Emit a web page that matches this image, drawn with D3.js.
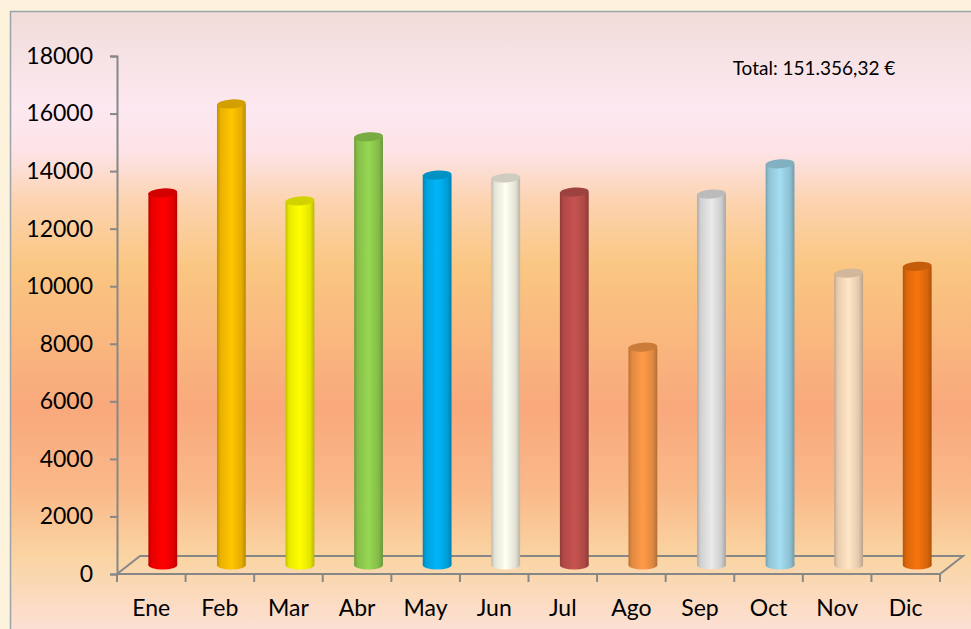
<!DOCTYPE html>
<html>
<head>
<meta charset="utf-8">
<script src="https://cdn.jsdelivr.net/npm/d3@7"></script>
<style>
  body { margin: 0; background: #fdf3dc; }
  text { font-family: Lato, "Open Sans", sans-serif; fill: #000; }
</style>
</head>
<body>
<svg id="chart" width="971" height="629"></svg>
<script>
// monthly sales
var months = ["Ene", "Feb", "Mar", "Abr", "May", "Jun", "Jul", "Ago", "Sep", "Oct", "Nov", "Dic"];
var sales = [12930, 16020, 12650, 14880, 13550, 13450, 12960, 7570, 12890, 13940, 10140, 10380];
var barColors = ["#ff0000", "#ffc000", "#ffff00", "#92d050", "#00b0f0", "#fbf9ea",
                 "#c0504d", "#f79646", "#e3e3e3", "#9dd6ea", "#ffdfbf", "#ef700c"];
var yTicks = [0, 2000, 4000, 6000, 8000, 10000, 12000, 14000, 16000, 18000];
var totalLabel = "Total: 151.356,32 €";

function main() {
    var svg = d3.select("#chart");
    var left = 117, right = 940, bottom = 574, top = 56;
    var depthX = 23, depthY = -18;   // floor depth offset

    var xScale = d3.scaleBand().domain(months).range([left, right]);
    var yScale = d3.scaleLinear().domain([0, 18000]).range([bottom, top]);

    var defs = svg.append("defs");

    // plot area background
    var bg = defs.append("linearGradient").attr("id", "bg")
        .attr("x1", 0).attr("y1", 0).attr("x2", 0).attr("y2", 1);
    [[0, "#f1dcd9"], [0.15, "#fde8f1"], [0.22, "#fde3e6"], [0.3, "#fcd3ae"],
     [0.4, "#fac681"], [0.62, "#f9a97c"], [0.75, "#fab989"], [0.85, "#fad4a2"],
     [1, "#fde3e3"]].forEach(function(s) {
        bg.append("stop").attr("offset", s[0]).attr("stop-color", s[1]);
    });

    svg.append("rect")
        .attr("x", 10.5).attr("y", 11.5)
        .attr("width", 975).attr("height", 640)
        .attr("fill", "url(#bg)")
        .attr("stroke", "#9da3ab").attr("stroke-width", 1.5);

    // cylinder shading per bar
    barColors.forEach(function(c, i) {
        var base = d3.color(c);
        var g = defs.append("linearGradient").attr("id", "cyl" + i)
            .attr("x1", 0).attr("y1", 0).attr("x2", 1).attr("y2", 0);
        g.append("stop").attr("offset", 0).attr("stop-color", d3.rgb(base).darker(0.8));
        g.append("stop").attr("offset", 0.12).attr("stop-color", d3.rgb(base).darker(0.25));
        g.append("stop").attr("offset", 0.5).attr("stop-color", d3.rgb(base).brighter(0.1));
        g.append("stop").attr("offset", 0.85).attr("stop-color", d3.rgb(base).darker(0.3));
        g.append("stop").attr("offset", 1).attr("stop-color", d3.rgb(base).darker(0.9));
    });

    var axisColor = "#878787";

    // floor outline
    var floor = [[left, bottom], [right, bottom], [right + depthX, bottom + depthY], [left + depthX, bottom + depthY], [left, bottom]];
    svg.append("path")
        .attr("d", d3.line()(floor))
        .attr("fill", "none").attr("stroke", axisColor).attr("stroke-width", 2);

    // x ticks at band edges
    var edges = months.map(function(m) { return xScale(m); }).concat([right]);
    svg.selectAll(".xtick").data(edges).enter().append("line")
        .attr("x1", function(d) { return d; }).attr("x2", function(d) { return d; })
        .attr("y1", bottom).attr("y2", bottom + 8)
        .attr("stroke", axisColor).attr("stroke-width", 2);

    // y axis
    var yAxis = svg.append("g")
        .attr("transform", "translate(" + left + ",0)")
        .call(d3.axisLeft(yScale).tickValues(yTicks).tickFormat(d3.format("d")).tickSize(7).tickPadding(17));
    yAxis.select(".domain").attr("stroke", axisColor).attr("stroke-width", 2);
    yAxis.selectAll(".tick line").attr("stroke", axisColor).attr("stroke-width", 2);
    yAxis.selectAll(".tick text")
        .attr("font-size", 23).attr("font-family", "Lato, 'Open Sans', sans-serif")
        .attr("fill", "#000");

    // cylinders sit at mid depth
    var bw = xScale.bandwidth() * 0.42;
    var ry = 4.5;
    var offX = depthX / 2, offY = depthY / 2;
    var bars = svg.selectAll(".bar").data(sales).enter().append("g").attr("class", "bar");

    bars.append("ellipse")
        .attr("cx", function(d, i) { return xScale(months[i]) + xScale.bandwidth() / 2 + offX; })
        .attr("cy", yScale(0) + offY)
        .attr("rx", bw / 2).attr("ry", ry)
        .attr("fill", function(d, i) { return "url(#cyl" + i + ")"; });

    bars.append("rect")
        .attr("x", function(d, i) { return xScale(months[i]) + xScale.bandwidth() / 2 + offX - bw / 2; })
        .attr("y", function(d) { return yScale(d) + offY; })
        .attr("width", bw)
        .attr("height", function(d) { return yScale(0) - yScale(d); })
        .attr("fill", function(d, i) { return "url(#cyl" + i + ")"; });

    bars.append("ellipse")
        .attr("transform", function(d, i) {
            var cx = xScale(months[i]) + xScale.bandwidth() / 2 + offX;
            var cy = yScale(d) + offY;
            return "translate(" + cx + "," + cy + ") rotate(-4)";
        })
        .attr("rx", bw / 2).attr("ry", ry)
        .attr("fill", function(d, i) { return d3.rgb(barColors[i]).darker(0.55); });

    // category labels
    svg.selectAll(".xlabel").data(months).enter().append("text")
        .attr("x", function(d) { return xScale(d) + xScale.bandwidth() / 2; })
        .attr("y", 616)
        .attr("text-anchor", "middle")
        .attr("font-size", 23)
        .text(function(d) { return d; });

    svg.append("text")
        .attr("x", 814).attr("y", 75)
        .attr("text-anchor", "middle")
        .attr("font-size", 19)
        .text(totalLabel);
}
main();
</script>
</body>
</html>
